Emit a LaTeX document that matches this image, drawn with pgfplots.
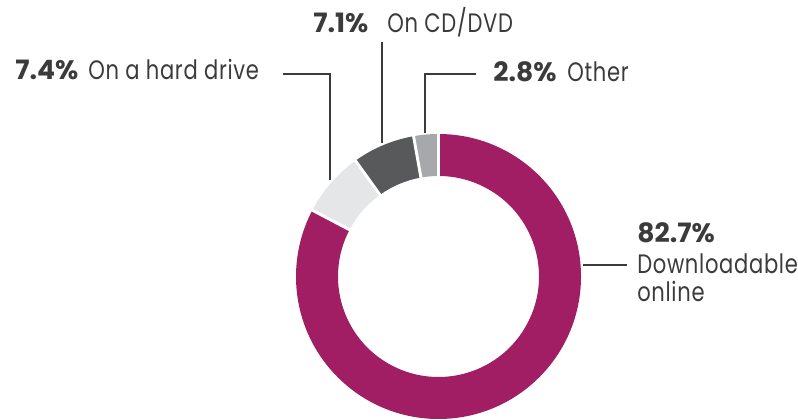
\documentclass[border=0pt]{standalone}
\usepackage{pgfplots}
\pgfplotsset{compat=1.18}
\usepackage{fontspec}
\setmainfont{Poppins}
\newfontfamily\lab{Poppins}[FakeStretch=0.79, LetterSpace=2.6]
\definecolor{mag}{HTML}{A11E64}
\definecolor{lgray}{HTML}{E5E6E7}
\definecolor{dgray}{HTML}{58595B}
\definecolor{mgray}{HTML}{A6A8AB}
\definecolor{txt}{HTML}{3B3B3B}
% data (percent)
\def\vDown{82.7}
\def\vHard{7.4}
\def\vCD{7.1}
\def\vOther{2.8}
\newcommand\seg[3]{%
 \fill[#3] (axis cs:{438.5+142.5*cos(#1)},{143.5+142.5*sin(#1)}) arc[start angle=#1,end angle=#2,radius=106.875pt]
   -- (axis cs:{438.5+100.5*cos(#2)},{143.5+100.5*sin(#2)}) arc[start angle=#2,end angle=#1,radius=75.375pt] -- cycle;}
\newcommand\sep[1]{%
 \draw[white,line width=2.2pt] (axis cs:{438.5+97*cos(#1)},{143.5+97*sin(#1)}) -- (axis cs:{438.5+146*cos(#1)},{143.5+146*sin(#1)});}
\begin{document}
\begin{tikzpicture}
\useasboundingbox (0,0) rectangle (598.5pt,315pt);
\pgfmathsetmacro\aA{90}
\pgfmathsetmacro\aB{\aA-3.6*\vDown}
\pgfmathsetmacro\aC{\aB-3.6*\vHard}
\pgfmathsetmacro\aD{\aC-3.6*\vCD}
\pgfmathsetmacro\aE{\aD-3.6*\vOther}
\begin{axis}[x=0.75pt,y=0.75pt,xmin=0,xmax=798,ymin=0,ymax=420,hide axis,clip=false,anchor=south west,at={(0,0)}]
\seg{\aA}{\aB}{mag}
\seg{\aB}{\aC}{lgray}
\seg{\aC}{\aD}{dgray}
\seg{\aD}{\aE}{mgray}
\sep{\aA}\sep{\aB}\sep{\aC}\sep{\aD}
% leader lines
\draw[txt,line width=1.5pt] (axis cs:283,346) -- (axis cs:330,346) -- (axis cs:330,240);
\draw[txt,line width=1.5pt] (axis cs:382,378) -- (axis cs:382,277);
\draw[txt,line width=1.5pt] (axis cs:476,346) -- (axis cs:425,346) -- (axis cs:425,287);
\draw[txt,line width=1.5pt] (axis cs:583,155) -- (axis cs:627,155);
% labels
\node[anchor=base west,inner sep=0,text=txt,font=\fontsize{20pt}{24pt}\selectfont\bfseries] at (axis cs:15,340) {7.4\%};
\node[anchor=base west,inner sep=0,text=txt,font=\fontsize{20pt}{24pt}\lab] at (axis cs:88,340) {On a hard drive};
\node[anchor=base west,inner sep=0,text=txt,font=\fontsize{20pt}{24pt}\selectfont\bfseries] at (axis cs:313,387) {7.1\%};
\node[anchor=base west,inner sep=0,text=txt,font=\fontsize{20pt}{24pt}\lab] at (axis cs:387,387) {On CD/DVD};
\node[anchor=base west,inner sep=0,text=txt,font=\fontsize{20pt}{24pt}\selectfont\bfseries] at (axis cs:493,338) {2.8\%};
\node[anchor=base west,inner sep=0,text=txt,font=\fontsize{20pt}{24pt}\lab] at (axis cs:567,338) {Other};
\node[anchor=base west,inner sep=0,text=txt,font=\fontsize{20pt}{24pt}\selectfont\bfseries] at (axis cs:637,177) {82.7\%};
\node[anchor=base west,inner sep=0,text=txt,font=\fontsize{20pt}{24pt}\lab] at (axis cs:637,146) {Downloadable};
\node[anchor=base west,inner sep=0,text=txt,font=\fontsize{20pt}{24pt}\lab] at (axis cs:637,118) {online};
\end{axis}
\end{tikzpicture}
\end{document}
